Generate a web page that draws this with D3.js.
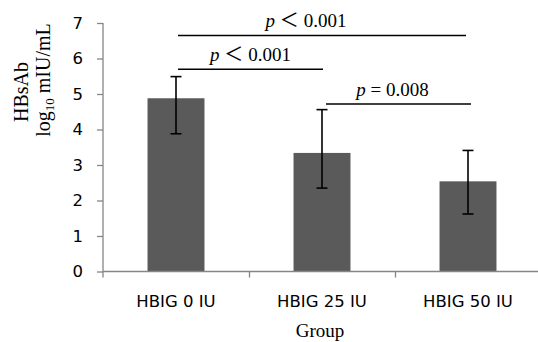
<!DOCTYPE html>
<html>
<head>
<meta charset="utf-8">
<script src="https://cdn.jsdelivr.net/npm/d3@7"></script>
<style>
  body { margin: 0; background: #fff; }
  svg { display: block; }
</style>
</head>
<body>
<div id="chart"></div>
<script>
// data
const groups = ['HBIG 0 IU', 'HBIG 25 IU', 'HBIG 50 IU'];
const means = [4.88, 3.34, 2.54];
const errUpper = [5.49, 4.56, 3.41];
const errLower = [3.88, 2.35, 1.62];
const yTicks = [0, 1, 2, 3, 4, 5, 6, 7];

// significance brackets: from group, to group, height (y units), label
const compFrom = [0, 0, 1];
const compTo = [2, 1, 2];
const compLevel = [6.65, 5.70, 4.72];
const compSign = ['＜', '＜', '='];
const compValue = ['0.001', '0.001', '0.008'];

// layout
const width = 538, height = 342;
const margins = { top: 23, bottom: 70.5, left: 103, right: -3 };
const plotW = width - margins.left - margins.right;
const plotH = height - margins.top - margins.bottom;
const axisColor = '#868686';
const barColor = '#5a5a5a';
const sansFont = 'DejaVu Sans, Verdana, sans-serif';
const serifFont = '"Liberation Serif", "Times New Roman", "Noto Sans CJK SC", serif';

const svg = d3.select('#chart').append('svg')
    .attr('width', width)
    .attr('height', height);

const g = svg.append('g')
    .attr('transform', `translate(${margins.left},${margins.top})`);

// scales
const xScale = d3.scaleBand()
    .domain(groups)
    .range([0, plotW])
    .paddingInner(0.61)
    .paddingOuter(0.305);

const xBoundary = d3.scaleLinear()
    .domain([0, groups.length])
    .range([0, plotW]);

const yScale = d3.scaleLinear()
    .domain([0, 7])
    .range([plotH, 0]);

// y axis
const yAxisGroup = g.append('g')
    .call(d3.axisLeft(yScale).tickValues(yTicks).tickFormat(d3.format('d'))
        .tickSize(6).tickSizeOuter(0).tickPadding(14));
yAxisGroup.select('.domain').remove();
yAxisGroup.selectAll('.tick line').attr('stroke', axisColor).attr('stroke-width', 1.3);
yAxisGroup.selectAll('.tick text')
    .attr('font-family', sansFont)
    .attr('font-size', 16.5)
    .attr('fill', '#000');

// y axis line (extends below zero like the original)
g.append('line')
    .attr('x1', 0).attr('x2', 0)
    .attr('y1', yScale(7)).attr('y2', yScale(0) + 6)
    .attr('stroke', axisColor).attr('stroke-width', 1.3);

// x axis boundary ticks
const xTickGroup = g.append('g')
    .attr('transform', `translate(0,${plotH})`)
    .call(d3.axisBottom(xBoundary).tickValues(d3.range(1, groups.length)).tickSize(6).tickFormat(''));
xTickGroup.select('.domain').remove();
xTickGroup.selectAll('.tick line').attr('stroke', axisColor).attr('stroke-width', 1.3);

// bars
g.selectAll('.bar')
    .data(means)
    .join('rect')
    .attr('class', 'bar')
    .attr('x', (d, i) => xScale(groups[i]))
    .attr('y', d => yScale(d))
    .attr('width', xScale.bandwidth())
    .attr('height', d => plotH - yScale(d))
    .attr('fill', barColor);

// x axis line on top of bars
g.append('line')
    .attr('x1', 0).attr('x2', plotW)
    .attr('y1', plotH).attr('y2', plotH)
    .attr('stroke', axisColor).attr('stroke-width', 1.3);

// category labels
const xLabelGroup = g.append('g')
    .attr('transform', `translate(0,${plotH})`)
    .call(d3.axisBottom(xScale).tickSize(0).tickPadding(0));
xLabelGroup.select('.domain').remove();
xLabelGroup.selectAll('.tick text')
    .attr('y', 35.5)
    .attr('dy', 0)
    .attr('font-family', sansFont)
    .attr('font-size', 16.5)
    .attr('fill', '#000');

// error bars
const cx = i => xScale(groups[i]) + xScale.bandwidth() / 2;
const capW = 5.5;
const errors = g.append('g')
    .attr('stroke', '#000')
    .attr('stroke-width', 1.6);

errors.selectAll('.err-v')
    .data(means)
    .join('line')
    .attr('x1', (d, i) => cx(i)).attr('x2', (d, i) => cx(i))
    .attr('y1', (d, i) => yScale(errUpper[i]))
    .attr('y2', (d, i) => yScale(errLower[i]));

errors.selectAll('.err-top')
    .data(means)
    .join('line')
    .attr('x1', (d, i) => cx(i) - capW).attr('x2', (d, i) => cx(i) + capW)
    .attr('y1', (d, i) => yScale(errUpper[i]))
    .attr('y2', (d, i) => yScale(errUpper[i]));

errors.selectAll('.err-bottom')
    .data(means)
    .join('line')
    .attr('x1', (d, i) => cx(i) - capW).attr('x2', (d, i) => cx(i) + capW)
    .attr('y1', (d, i) => yScale(errLower[i]))
    .attr('y2', (d, i) => yScale(errLower[i]));

// significance lines and labels
const labelDx = [-16, 0, -6];
const endDx = [[2, -2], [2, 1], [4, 3]];

compLevel.forEach((level, i) => {
    const x1 = cx(compFrom[i]) + endDx[i][0];
    const x2 = cx(compTo[i]) + endDx[i][1];
    const y = yScale(level);

    g.append('line')
        .attr('x1', x1).attr('x2', x2)
        .attr('y1', y).attr('y2', y)
        .attr('stroke', '#000')
        .attr('stroke-width', 1.5);

    const label = g.append('text')
        .attr('x', (x1 + x2) / 2 + labelDx[i])
        .attr('y', y - 8)
        .attr('text-anchor', 'middle')
        .attr('font-family', serifFont)
        .attr('font-size', 19)
        .attr('fill', '#000');
    label.append('tspan').attr('font-style', 'italic').text('p');
    label.append('tspan').text(compSign[i] === '=' ? ' = ' : ' ' + compSign[i] + ' ');
    label.append('tspan').text(compValue[i]);
});

// axis titles
svg.append('text')
    .attr('transform', 'translate(28,92) rotate(-90)')
    .attr('text-anchor', 'middle')
    .attr('font-family', serifFont)
    .attr('font-size', 20)
    .attr('fill', '#000')
    .text('HBsAb');

const yUnit = svg.append('text')
    .attr('transform', 'translate(50,80) rotate(-90)')
    .attr('text-anchor', 'middle')
    .attr('font-family', serifFont)
    .attr('font-size', 20)
    .attr('fill', '#000');
yUnit.append('tspan').text('log');
yUnit.append('tspan').attr('font-size', 13).attr('dy', 4).text('10');
yUnit.append('tspan').attr('dy', -4).text(' mIU/mL');

svg.append('text')
    .attr('x', margins.left + xBoundary(groups.length / 2) - 2)
    .attr('y', 337)
    .attr('text-anchor', 'middle')
    .attr('font-family', serifFont)
    .attr('font-size', 19)
    .attr('fill', '#000')
    .text('Group');
</script>
</body>
</html>
